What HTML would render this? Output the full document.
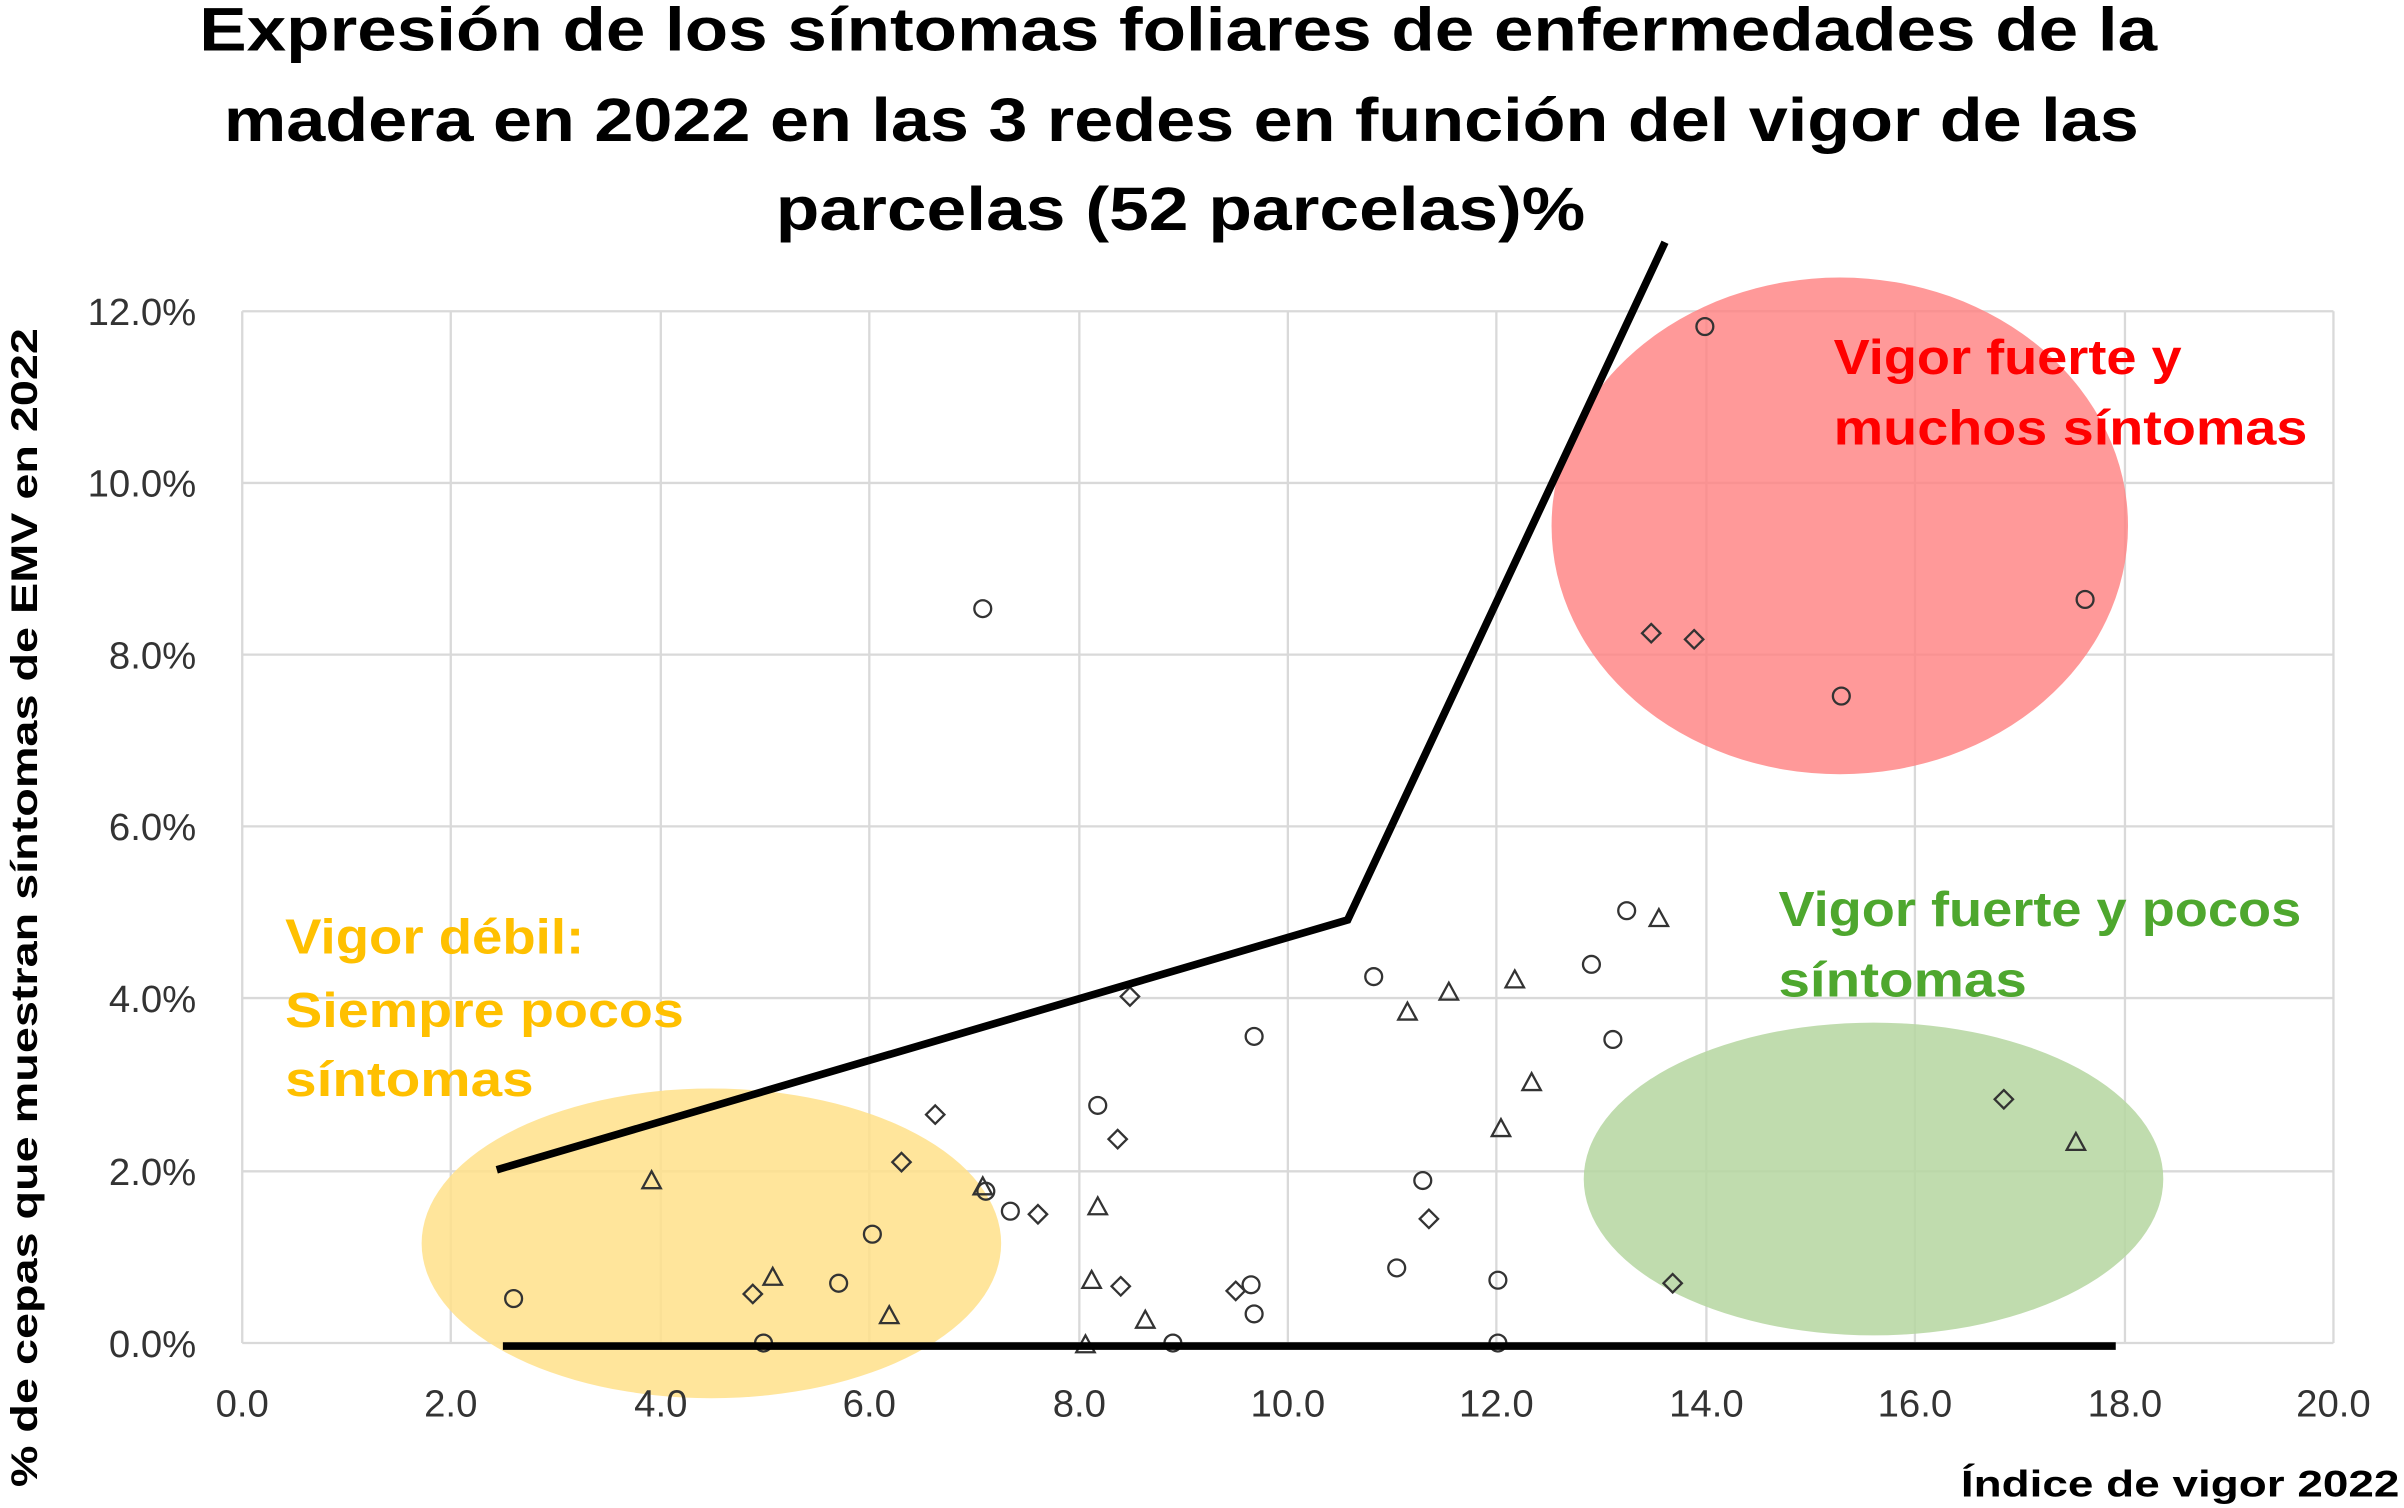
<!DOCTYPE html>
<html><head><meta charset="utf-8"><style>html,body{margin:0;padding:0;background:#fff}svg{display:block}</style></head>
<body>
<svg width="2404" height="1508" viewBox="0 0 1568 983.6" xmlns="http://www.w3.org/2000/svg" font-family="Liberation Sans, sans-serif">
<rect width="1568" height="984" fill="#fff"/>
<g stroke="#d9d9d9" stroke-width="1.5">
<line x1="158" y1="203" x2="1522" y2="203"/><line x1="158" y1="315" x2="1522" y2="315"/><line x1="158" y1="427" x2="1522" y2="427"/><line x1="158" y1="539" x2="1522" y2="539"/><line x1="158" y1="651" x2="1522" y2="651"/><line x1="158" y1="764" x2="1522" y2="764"/><line x1="158" y1="876" x2="1522" y2="876"/>
<line x1="158" y1="203" x2="158" y2="876"/><line x1="294" y1="203" x2="294" y2="876"/><line x1="431" y1="203" x2="431" y2="876"/><line x1="567" y1="203" x2="567" y2="876"/><line x1="704" y1="203" x2="704" y2="876"/><line x1="840" y1="203" x2="840" y2="876"/><line x1="976" y1="203" x2="976" y2="876"/><line x1="1113" y1="203" x2="1113" y2="876"/><line x1="1249" y1="203" x2="1249" y2="876"/><line x1="1386" y1="203" x2="1386" y2="876"/><line x1="1522" y1="203" x2="1522" y2="876"/>
</g>
<ellipse cx="1200" cy="343" rx="188" ry="162" fill="#ff8080" opacity="0.8"/>
<ellipse cx="464" cy="811" rx="189" ry="101" fill="#ffe08a" opacity="0.85"/>
<ellipse cx="1222" cy="769" rx="189" ry="102" fill="#b5d6a0" opacity="0.85"/>
<g font-size="25" fill="#333" text-anchor="end">
<text x="128" y="212">12.0%</text><text x="128" y="324">10.0%</text><text x="128" y="436">8.0%</text><text x="128" y="548">6.0%</text><text x="128" y="660">4.0%</text><text x="128" y="773">2.0%</text><text x="128" y="885">0.0%</text>
</g>
<g font-size="25" fill="#333" text-anchor="middle">
<text x="158" y="924">0.0</text><text x="294" y="924">2.0</text><text x="431" y="924">4.0</text><text x="567" y="924">6.0</text><text x="704" y="924">8.0</text><text x="840" y="924">10.0</text><text x="976" y="924">12.0</text><text x="1113" y="924">14.0</text><text x="1249" y="924">16.0</text><text x="1386" y="924">18.0</text><text x="1522" y="924">20.0</text>
</g>
<g fill="none" stroke="#333" stroke-width="1.5">
<g>
<circle cx="641" cy="397" r="5.5"/><circle cx="1112" cy="213" r="5.5"/><circle cx="1360" cy="391" r="5.5"/><circle cx="1201" cy="454" r="5.5"/><circle cx="1061" cy="594" r="5.5"/><circle cx="1038" cy="629" r="5.5"/><circle cx="896" cy="637" r="5.5"/><circle cx="818" cy="676" r="5.5"/><circle cx="1052" cy="678" r="5.5"/><circle cx="716" cy="721" r="5.5"/><circle cx="928" cy="770" r="5.5"/><circle cx="643" cy="777" r="5.5"/><circle cx="659" cy="790" r="5.5"/><circle cx="569" cy="805" r="5.5"/><circle cx="547" cy="837" r="5.5"/><circle cx="335" cy="847" r="5.5"/><circle cx="498" cy="876" r="5.5"/><circle cx="765" cy="876" r="5.5"/><circle cx="911" cy="827" r="5.5"/><circle cx="977" cy="835" r="5.5"/><circle cx="816" cy="838" r="5.5"/><circle cx="818" cy="857" r="5.5"/><circle cx="977" cy="876" r="5.5"/>
</g>
<g>
<path d="M1077 407l6 6-6 6-6-6z"/><path d="M1105 411l6 6-6 6-6-6z"/><path d="M737 644l6 6-6 6-6-6z"/><path d="M610 721l6 6-6 6-6-6z"/><path d="M729 737l6 6-6 6-6-6z"/><path d="M588 752l6 6-6 6-6-6z"/><path d="M677 786l6 6-6 6-6-6z"/><path d="M932 789l6 6-6 6-6-6z"/><path d="M491 838l6 6-6 6-6-6z"/><path d="M731 833l6 6-6 6-6-6z"/><path d="M806 836l6 6-6 6-6-6z"/><path d="M1307 711l6 6-6 6-6-6z"/><path d="M1091 831l6 6-6 6-6-6z"/>
</g>
<g>
<path d="M1082 593l6 11h-12z"/><path d="M988 633l6 11h-12z"/><path d="M945 641l6 11h-12z"/><path d="M918 654l6 11h-12z"/><path d="M999 700l6 11h-12z"/><path d="M979 730l6 11h-12z"/><path d="M1354 739l6 11h-12z"/><path d="M425 764l6 11h-12z"/><path d="M641 768l6 11h-12z"/><path d="M716 781l6 11h-12z"/><path d="M504 827l6 11h-12z"/><path d="M712 829l6 11h-12z"/><path d="M580 852l6 11h-12z"/><path d="M747 855l6 11h-12z"/><path d="M708 871l6 11h-12z"/>
</g>
</g>
<polyline points="324,763 879,600 1086,158" fill="none" stroke="#000" stroke-width="5"/>
<line x1="328" y1="878" x2="1380" y2="878" stroke="#000" stroke-width="5"/>
<g font-size="40" font-weight="bold" fill="#000">
<text x="130" y="33" textLength="1277" lengthAdjust="spacingAndGlyphs">Expresión de los síntomas foliares de enfermedades de la</text>
<text x="146" y="92" textLength="1249" lengthAdjust="spacingAndGlyphs">madera en 2022 en las 3 redes en función del vigor de las</text>
<text x="506" y="150" textLength="528" lengthAdjust="spacingAndGlyphs">parcelas (52 parcelas)%</text>
</g>
<text transform="translate(24,970) rotate(-90)" font-size="24" font-weight="bold" textLength="756" lengthAdjust="spacingAndGlyphs">% de cepas que muestran síntomas de EMV en 2022</text>
<text x="1279" y="976" font-size="24" font-weight="bold" textLength="286" lengthAdjust="spacingAndGlyphs">Índice de vigor 2022</text>
<g font-size="32" font-weight="bold" lengthAdjust="spacingAndGlyphs">
<text x="1196" y="244" fill="#ff0000" textLength="227" lengthAdjust="spacingAndGlyphs">Vigor fuerte y</text>
<text x="1196" y="290" fill="#ff0000" textLength="309" lengthAdjust="spacingAndGlyphs">muchos síntomas</text>
<text x="1160" y="604" fill="#4ea72e" textLength="341" lengthAdjust="spacingAndGlyphs">Vigor fuerte y pocos</text>
<text x="1160" y="650" fill="#4ea72e" textLength="162" lengthAdjust="spacingAndGlyphs">síntomas</text>
<text x="186" y="622" fill="#ffc000" textLength="195" lengthAdjust="spacingAndGlyphs">Vigor débil:</text>
<text x="186" y="670" fill="#ffc000" textLength="260" lengthAdjust="spacingAndGlyphs">Siempre pocos</text>
<text x="186" y="715" fill="#ffc000" textLength="162" lengthAdjust="spacingAndGlyphs">síntomas</text>
</g>
</svg>
</body></html>
